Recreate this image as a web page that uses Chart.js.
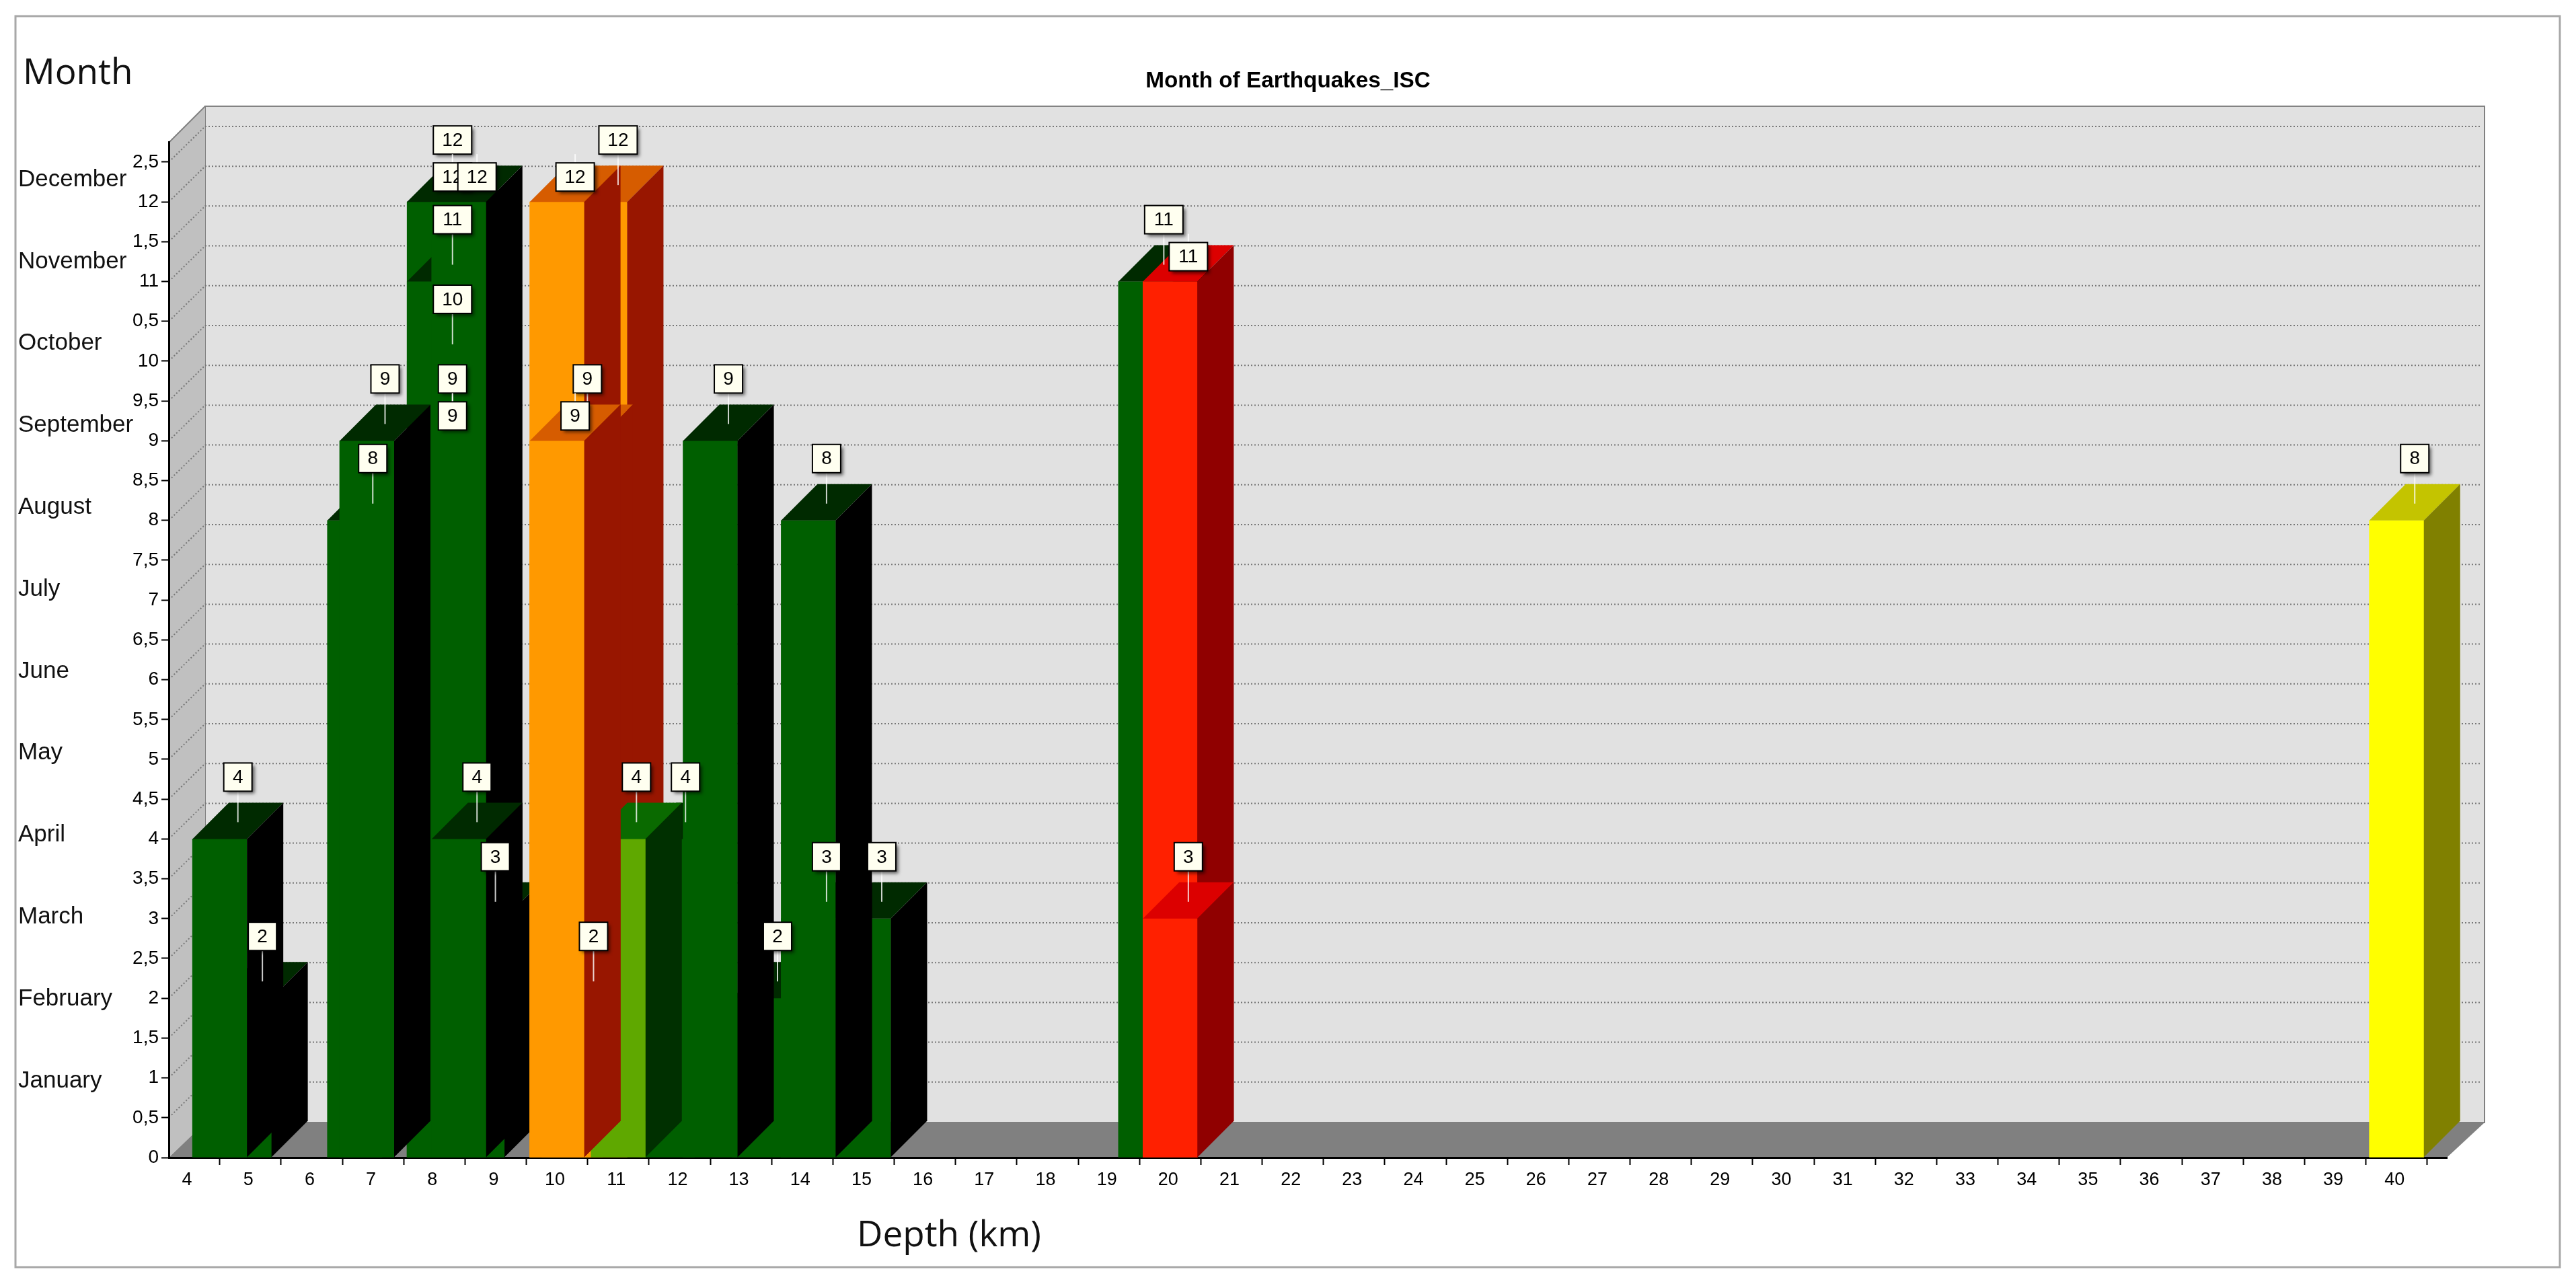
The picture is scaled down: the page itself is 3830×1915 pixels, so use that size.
<!DOCTYPE html>
<html>
<head>
<meta charset="utf-8">
<title>Month of Earthquakes_ISC</title>
<style>html,body{margin:0;padding:0;background:#fff}canvas{display:block}</style>
<script src="https://cdn.jsdelivr.net/npm/chart.js@4/dist/chart.umd.min.js"></script>
</head>
<body>
<canvas id="c" width="3830" height="1915"></canvas>
<script>
// ---- data, in the order the marks stack up (first is farthest back) ----
const depths = [4.9,4.5,6.7,8,8,8,8,8,8,8.4,8.7,8.4,6.9,10.3,10.7,10.2,11.8,11,10,10,13.3,12.5,15,14.1,14.1,19.6,20,20,40];
const months = [2,4,8,10,9,9,12,12,11,12,3,4,9,2,12,9,4,4,12,9,2,9,3,3,8,11,11,3,8];
const classes = ['g','g','g','g','g','g','g','g','g','g','g','g','g','o','o','o','g','l','o','o','g','g','g','g','g','g','r','r','y'];
const loweredMarks = [5,7,9,18,19,26];
const yTickLabels = ['0','0,5','1','1,5','2','2,5','3','3,5','4','4,5','5','5,5','6','6,5','7','7,5','8','8,5','9','9,5','10','0,5','11','1,5','12','2,5'];
const xTickLabels = ['4','5','6','7','8','9','10','11','12','13','14','15','16','17','18','19','20','21','22','23','24','25','26','27','28','29','30','31','32','33','34','35','36','37','38','39','40'];
const monthNames = ['January','February','March','April','May','June','July','August','September','October','November','December'];

// ---- styling ----
const palette = {
  g:{front:'#005f00',top:'#002a00',side:'#000000'},
  l:{front:'#5fa800',top:'#0a6a00',side:'#003000'},
  o:{front:'#ff9900',top:'#d65c00',side:'#981600'},
  r:{front:'#ff2000',top:'#dc0000',side:'#900000'},
  y:{front:'#ffff00',top:'#c4c400',side:'#808000'}
};
const DX = 54, DY = 54, LABEL = '"Liberation Sans", Arial, sans-serif', HAND = '"Open Sans", sans-serif';

class Bar3D extends Chart.BarController {
  draw() {
    const ctx = this._ctx, meta = this._cachedMeta;
    meta.data.forEach((el, i) => {
      const c = palette[classes[i]], l = el.x - el.width / 2, r = el.x + el.width / 2;
      el.draw(ctx);
      ctx.save();
      ctx.fillStyle = c.top;
      ctx.beginPath(); ctx.moveTo(l, el.y); ctx.lineTo(r, el.y); ctx.lineTo(r + DX, el.y - DY); ctx.lineTo(l + DX, el.y - DY); ctx.closePath(); ctx.fill();
      ctx.fillStyle = c.side;
      ctx.beginPath(); ctx.moveTo(r, el.y); ctx.lineTo(r + DX, el.y - DY); ctx.lineTo(r + DX, el.base - DY); ctx.lineTo(r, el.base); ctx.closePath(); ctx.fill();
      ctx.restore();
    });
  }
}
Bar3D.id = 'bar3d';
Bar3D.defaults = Chart.BarController.defaults;
Chart.register(Bar3D);

const scene = {
  id: 'scene',
  beforeDraw(chart) {
    const {ctx, chartArea: a, scales: {y}} = chart;
    ctx.save();
    // outer frame
    ctx.strokeStyle = '#a8a8a8'; ctx.lineWidth = 3;
    ctx.strokeRect(23, 24, 3783, 1860);
    const bx = a.left + DX, by = a.bottom - DX + 2, tx = a.right + DX + 2, ty = a.top - DX;
    // back wall
    ctx.fillStyle = '#e1e1e1'; ctx.fillRect(bx, ty, tx - bx, by - ty);
    ctx.strokeStyle = '#808080'; ctx.lineWidth = 2; ctx.strokeRect(bx, ty, tx - bx, by - ty);
    // left wall
    ctx.fillStyle = '#c0c0c0';
    ctx.beginPath(); ctx.moveTo(a.left, a.bottom); ctx.lineTo(bx, by); ctx.lineTo(bx, ty); ctx.lineTo(a.left, a.top); ctx.closePath(); ctx.fill();
    ctx.strokeStyle = '#808080'; ctx.lineWidth = 2;
    ctx.beginPath(); ctx.moveTo(a.left, a.top); ctx.lineTo(bx, ty); ctx.stroke();
    // floor
    ctx.fillStyle = '#808080';
    ctx.beginPath(); ctx.moveTo(a.left, a.bottom); ctx.lineTo(bx, by); ctx.lineTo(tx, by); ctx.lineTo(a.right, a.bottom); ctx.closePath(); ctx.fill();
    // dotted level lines
    ctx.strokeStyle = '#777'; ctx.lineWidth = 2; ctx.setLineDash([2, 3]);
    y.ticks.forEach(t => {
      if (t.value === 0) return;
      const p = y.getPixelForValue(t.value);
      ctx.beginPath(); ctx.moveTo(a.left + 4, p - 4); ctx.lineTo(bx, p - DX + 1); ctx.lineTo(tx - 5, p - DX + 1); ctx.stroke();
    });
    ctx.restore();
  },
  afterDatasetsDraw(chart) {
    const {ctx} = chart, data = chart.getDatasetMeta(0).data;
    ctx.save();
    ctx.font = '28px ' + LABEL; ctx.textAlign = 'center'; ctx.textBaseline = 'middle';
    data.forEach((el, i) => {
      const cx = el.x + DX / 2, base = el.y - 25, tip = base - 46;
      const shift = loweredMarks.includes(i) ? 55 : 0;
      const text = String(months[i]), w = text.length > 1 ? 57 : 42, h = 42, top = tip - h + shift;
      ctx.strokeStyle = 'rgba(255,255,255,0.8)'; ctx.lineWidth = 2;
      ctx.beginPath(); ctx.moveTo(cx, base); ctx.lineTo(cx, tip); ctx.stroke();
      ctx.shadowColor = 'rgba(0,0,0,0.6)'; ctx.shadowBlur = 5; ctx.shadowOffsetX = 4; ctx.shadowOffsetY = 4;
      ctx.fillStyle = '#fffff0'; ctx.fillRect(cx - w / 2, top, w, h);
      ctx.shadowColor = 'transparent'; ctx.shadowBlur = 0; ctx.shadowOffsetX = 0; ctx.shadowOffsetY = 0;
      ctx.strokeStyle = '#000'; ctx.lineWidth = 2; ctx.strokeRect(cx - w / 2, top, w, h);
      ctx.fillStyle = '#000'; ctx.fillText(text, cx, top + h / 2 + 1);
    });
    // hand-typed annotations
    ctx.textAlign = 'left';
    ctx.fillStyle = '#111';
    ctx.font = '35px ' + LABEL;
    monthNames.forEach((m, i) => ctx.fillText(m, 27, 1607 - i * 121.8));
    ctx.font = '53px ' + HAND;
    ctx.fillText('Month', 34, 110);
    ctx.textAlign = 'center';
    ctx.fillText('Depth (km)', 1411, 1838);
    ctx.restore();
  }
};

new Chart(document.getElementById('c'), {
  type: 'bar3d',
  plugins: [scene],
  data: {
    datasets: [{
      label: 'Month of Earthquakes_ISC',
      data: depths.map((d, i) => ({x: d, y: months[i]})),
      backgroundColor: classes.map(k => palette[k].front),
      barThickness: 81,
      borderWidth: 0,
      clip: false
    }]
  },
  options: {
    responsive: false,
    animation: false,
    devicePixelRatio: 1,
    layout: {autoPadding: false, padding: {left: 192, top: 0, right: 192, bottom: 0}},
    plugins: {
      legend: {display: false},
      tooltip: {enabled: false},
      title: {
        display: true,
        text: 'Month of Earthquakes_ISC',
        color: '#000',
        font: {family: LABEL, size: 33.3, weight: 'bold'},
        padding: {top: 101, bottom: 71}
      }
    },
    scales: {
      x: {
        type: 'linear', min: 3.67, max: 40.82, offset: false,
        afterFit(s) { s.height = 194; },
        border: {color: '#000', width: 3},
        grid: {display: true, drawOnChartArea: false, tickLength: 11, tickColor: '#000', tickWidth: 2},
        ticks: {stepSize: 1, includeBounds: false, autoSkip: false, maxRotation: 0, padding: 6, labelOffset: -3, color: '#000',
          font: {family: LABEL, size: 27},
          callback: v => xTickLabels[v - 4]}
      },
      y: {
        type: 'linear', min: 0, max: 12.745,
        afterFit(s) { s.width = 59; },
        border: {color: '#000', width: 3},
        grid: {display: true, drawOnChartArea: false, tickLength: 11, tickColor: '#000', tickWidth: 2},
        ticks: {stepSize: 0.5, includeBounds: false, autoSkip: false, padding: 4, color: '#000',
          font: {family: LABEL, size: 28},
          callback: v => yTickLabels[Math.round(v * 2)]}
      }
    }
  }
});
</script>
</body>
</html>
